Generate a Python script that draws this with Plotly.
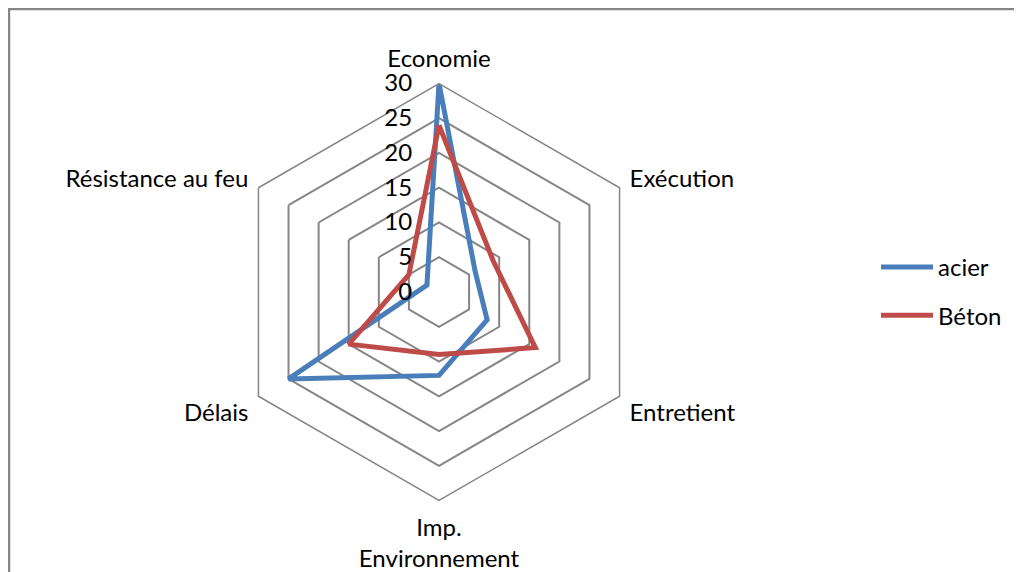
import plotly.graph_objects as go

# axes of the radar
categories = ["Economie", "Exécution", "Entretient", "Imp.<br>Environnement", "Délais", "Résistance au feu"]
acier = [30, 6, 8, 12, 25, 2]
beton = [24, 9, 16, 9, 15, 5]
radial_ticks = [0, 5, 10, 15, 20, 25, 30]

blue = "#4A7EBB"
red = "#BE4B48"
grid = "#868686"
font = "Lato"

fig = go.Figure()

# close the loops
fig.add_trace(go.Scatterpolar(r=acier + acier[:1], theta=categories + categories[:1],
                              mode="lines", name="acier", legendgroup="a",
                              line=dict(color=blue, width=5)))
fig.add_trace(go.Scatterpolar(r=beton + beton[:1], theta=categories + categories[:1],
                              mode="lines", name="Béton", legendgroup="b",
                              line=dict(color=red, width=5)))

W, H = 1022, 572
off = 8  # page body margin
cx, cy, R = 439 - off, 292 - off, 208.5

fig.update_layout(
    width=W, height=H,
    margin=dict(l=0, r=0, t=0, b=0),
    paper_bgcolor="white",
    plot_bgcolor="white",
    font=dict(family=font, size=24, color="black"),
    polar=dict(
        domain=dict(x=[(cx - R) / W, (cx + R) / W], y=[1 - (cy + R) / H, 1 - (cy - R) / H]),
        gridshape="linear",
        bgcolor="white",
        radialaxis=dict(range=[0, 30], tickvals=radial_ticks, angle=90, tickangle=90,
                        side="counterclockwise", showline=False, gridcolor=grid, gridwidth=1.5,
                        ticks="outside", ticklen=18, tickcolor="rgba(0,0,0,0)",
                        tickfont=dict(size=24)),
        angularaxis=dict(rotation=90, direction="clockwise", showgrid=False,
                         showline=True, linecolor=grid, linewidth=1.5,
                         ticks="outside", ticklen=6, tickcolor="rgba(0,0,0,0)",
                         tickfont=dict(size=24)),
    ),
    legend=dict(x=(882 - 6 - off) / W, y=1 - (291.5 - off) / H, xanchor="left", yanchor="middle",
                font=dict(size=24), tracegroupgap=14, itemwidth=52),
    shapes=[dict(type="rect", xref="paper", yref="paper",
                 x0=1 / W, x1=(1018 - off) / W, y0=-0.2, y1=1 - 1 / H,
                 line=dict(color=grid, width=2.5))],
)

fig.write_html("out.html")
